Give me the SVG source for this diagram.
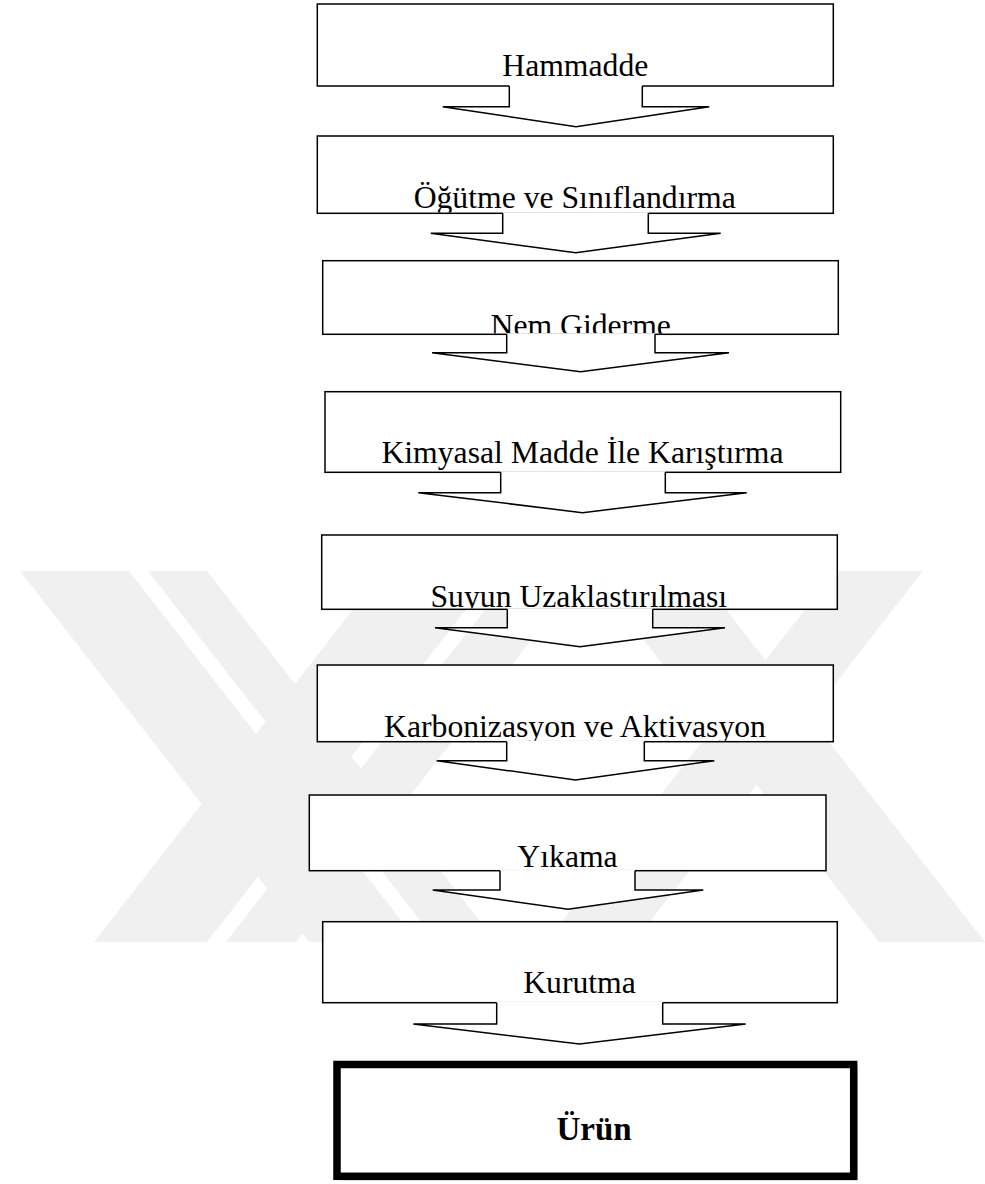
<svg xmlns="http://www.w3.org/2000/svg" width="985" height="1184" viewBox="0 0 985 1184">
<style>
.bx{fill:#fff;stroke:#000;stroke-width:1.5}
.t{font-family:"Liberation Serif","Times New Roman",serif;font-size:31.7px;fill:#000;text-anchor:middle}
.tb{font-family:"Liberation Serif","Times New Roman",serif;font-size:33px;font-weight:bold;fill:#000;text-anchor:middle}
.af{fill:#fff;stroke:none}
.as{fill:none;stroke:#000;stroke-width:1.5;stroke-linejoin:miter}
.wm{fill:#f0f0f0}
</style>
<defs>
<clipPath id="c1"><rect x="317" y="4" width="517" height="81.3"/></clipPath>
<clipPath id="c2"><rect x="317" y="136" width="517" height="76.6"/></clipPath>
<clipPath id="c3"><rect x="322" y="260.7" width="517" height="72.9"/></clipPath>
<clipPath id="c4"><rect x="325" y="391.7" width="517" height="79.9"/></clipPath>
<clipPath id="c5"><rect x="321" y="535" width="517" height="73.6"/></clipPath>
<clipPath id="c6"><rect x="317" y="665" width="517" height="76"/></clipPath>
<clipPath id="c7"><rect x="309" y="795" width="517" height="75"/></clipPath>
<clipPath id="c8"><rect x="322" y="921.7" width="516" height="80.3"/></clipPath>
</defs>
<rect width="985" height="1184" fill="#fff"/>
<g id="watermark">
<polygon class="wm" points="20,571 129,571 418,942 309,942"/>
<polygon class="wm" points="148,571 207,571 496,942 437,942"/>
<polygon class="wm" points="94,942 207,942 496,571 383,571"/>
<polygon class="wm" points="226,942 296,942 585,571 515,571"/>
<polygon class="wm" points="835,571 923,571 634,942 546,942"/>
<polygon class="wm" points="879,942 985,942 696,571 590,571"/>
</g>
<g id="nodes">
<g id="n1"><rect class="bx" x="317.3" y="4" width="516" height="82"/><text class="t" x="575.3" y="76" clip-path="url(#c1)">Hammadde</text></g>
<g id="n2"><rect class="bx" x="317.3" y="136" width="516" height="77.3"/><text class="t" x="574.7" y="208.3" clip-path="url(#c2)">Öğütme ve Sınıflandırma</text></g>
<g id="n3"><rect class="bx" x="322.7" y="260.7" width="515.6" height="73.6"/><text class="t" x="580.7" y="336" clip-path="url(#c3)">Nem Giderme</text></g>
<g id="n4"><rect class="bx" x="325" y="391.7" width="515.7" height="80.6"/><text class="t" x="582.5" y="462.7" clip-path="url(#c4)">Kimyasal Madde İle Karıştırma</text></g>
<g id="n5"><rect class="bx" x="321.7" y="535" width="515.6" height="74.3"/><text class="t" x="578.8" y="607" clip-path="url(#c5)">Suyun Uzaklastırılması</text></g>
<g id="n6"><rect class="bx" x="317.3" y="665" width="516" height="76.7"/><text class="t" x="575" y="737" clip-path="url(#c6)">Karbonizasyon ve Aktivasyon</text></g>
<g id="n7"><rect class="bx" x="309.3" y="795" width="516.7" height="75.7"/><text class="t" x="567.5" y="867.3" clip-path="url(#c7)">Yıkama</text></g>
<g id="n8"><rect class="bx" x="322.7" y="921.7" width="514.6" height="81"/><text class="t" x="579.5" y="992.7" clip-path="url(#c8)">Kurutma</text></g>
<g id="n9"><rect x="341" y="1068.5" width="516.7" height="111.8" fill="#c4c4c4"/><rect x="337" y="1064.5" width="516.7" height="111.8" fill="#fff" stroke="#000" stroke-width="7.5"/><text class="tb" x="594" y="1140">Ürün</text></g>
</g>
<g id="connectors">
<path class="af" d="M509.3,85 V106.7 H442.7 L576,126.7 L709.3,106.7 H642.3 V85 Z"/>
<path class="as" d="M509.3,86 V106.7 H442.7 L576,126.7 L709.3,106.7 H642.3 V86"/>
<path class="af" d="M502.7,212.3 V233.3 H430.7 L575.7,252.7 L720.7,233.3 H648.3 V212.3 Z"/>
<path class="as" d="M502.7,213.3 V233.3 H430.7 L575.7,252.7 L720.7,233.3 H648.3 V213.3"/>
<path class="af" d="M506.7,333.3 V352.7 H432 L580.5,371.7 L729,352.7 H655 V333.3 Z"/>
<path class="as" d="M506.7,334.3 V352.7 H432 L580.5,371.7 L729,352.7 H655 V334.3"/>
<path class="af" d="M500.7,471.3 V492.7 H418.3 L582.5,512.7 L746.7,492.7 H665.3 V471.3 Z"/>
<path class="as" d="M500.7,472.3 V492.7 H418.3 L582.5,512.7 L746.7,492.7 H665.3 V472.3"/>
<path class="af" d="M507.3,608.3 V627.7 H435 L580,646.7 L725,627.7 H652.7 V608.3 Z"/>
<path class="as" d="M507.3,609.3 V627.7 H435 L580,646.7 L725,627.7 H652.7 V609.3"/>
<path class="af" d="M506.7,740.7 V760.7 H436.7 L575.5,780 L714.3,760.7 H644.3 V740.7 Z"/>
<path class="as" d="M506.7,741.7 V760.7 H436.7 L575.5,780 L714.3,760.7 H644.3 V741.7"/>
<path class="af" d="M500,869.7 V890 H432.7 L568,909.3 L703.3,890 H635 V869.7 Z"/>
<path class="as" d="M500,870.7 V890 H432.7 L568,909.3 L703.3,890 H635 V870.7"/>
<path class="af" d="M496.7,1001.7 V1024 H413.3 L579.5,1044 L745.7,1024 H662.7 V1001.7 Z"/>
<path class="as" d="M496.7,1002.7 V1024 H413.3 L579.5,1044 L745.7,1024 H662.7 V1002.7"/>
</g>
</svg>
